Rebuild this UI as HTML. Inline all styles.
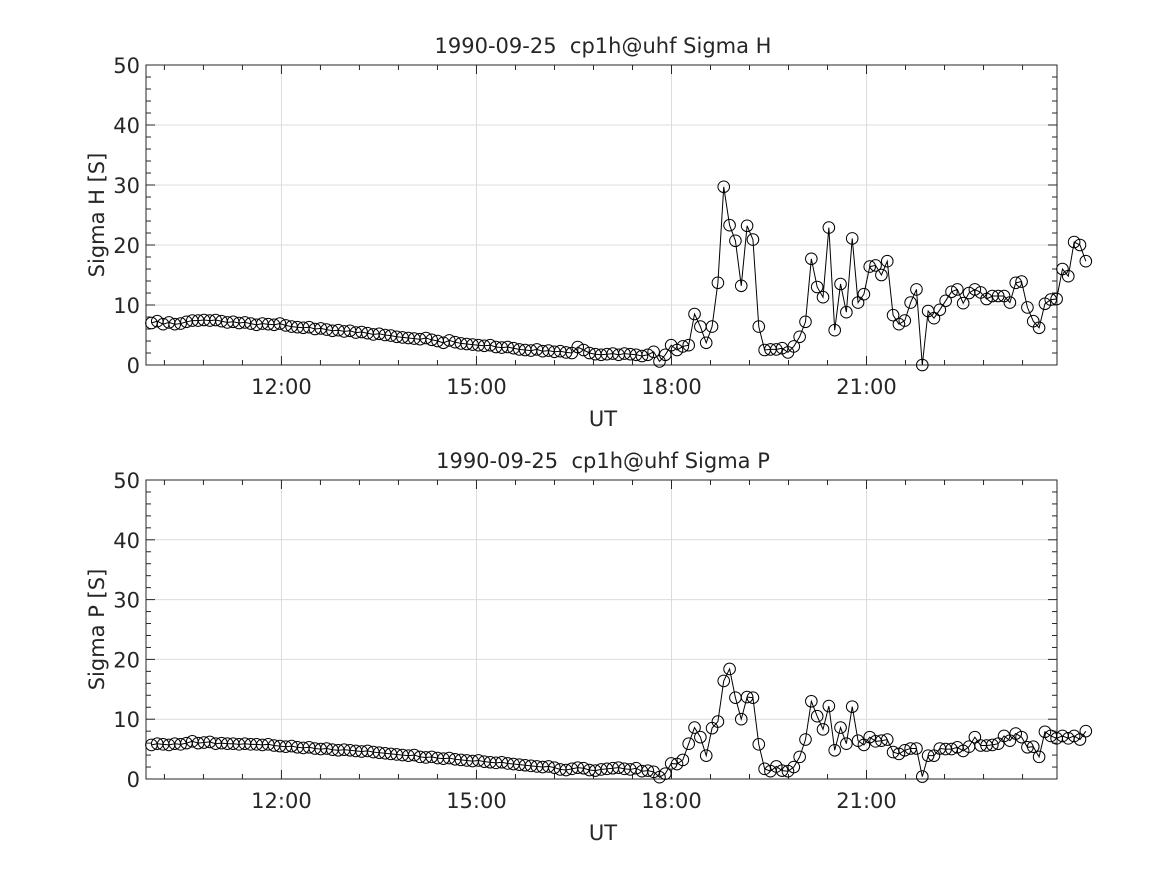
<!DOCTYPE html>
<html><head><meta charset="utf-8"><style>
body{margin:0;background:#fff;}
svg text{font-family:"DejaVu Sans","Liberation Sans",sans-serif;fill:#262626;white-space:pre;}
</style></head><body>
<svg id="fig" width="1167" height="875" viewBox="0 0 1167 875" xmlns="http://www.w3.org/2000/svg" xml:space="preserve"></svg>
<script>
// data
const startHour = 10.0;
const stepMin = 5.39;
const sigmaH = [7.0,7.3,6.8,7.1,6.8,6.9,7.2,7.4,7.4,7.5,7.4,7.5,7.3,7.1,7.2,7.0,7.1,6.9,6.7,6.9,6.8,6.7,6.9,6.6,6.4,6.3,6.2,6.3,6.0,6.1,5.9,5.7,5.8,5.6,5.7,5.4,5.5,5.3,5.1,5.2,5.0,4.9,4.7,4.6,4.5,4.4,4.3,4.5,4.2,4.0,3.7,4.1,3.8,3.6,3.5,3.4,3.3,3.2,3.3,3.0,2.9,3.0,2.8,2.6,2.5,2.4,2.6,2.3,2.4,2.2,2.3,2.1,2.0,3.0,2.5,2.0,1.8,1.7,1.8,1.9,1.7,1.9,1.8,1.7,1.5,
1.7,2.2,0.6,1.7,3.3,2.5,3.1,3.3,8.5,6.4,3.7,6.4,13.7,29.7,23.3,20.7,13.2,23.2,20.9,6.4,2.5,2.6,2.6,2.8,2.1,3.1,4.7,7.2,17.7,13.0,11.3,22.9,5.8,13.5,8.8,21.1,10.4,11.8,16.4,16.6,15.0,17.3,8.3,6.8,7.4,10.4,12.6,0,9.0,7.8,9.2,10.7,12.2,12.6,10.3,12.0,12.6,12.1,11.0,11.5,11.5,11.5,10.4,13.7,13.9,9.6,7.3,6.2,10.2,10.9,11.0,16.0,14.8,20.5,20.0,17.3];
const sigmaP = [5.7,5.9,5.8,5.7,5.9,5.8,6.0,6.3,6.0,6.1,6.2,5.9,6.0,5.9,5.9,5.8,5.9,5.8,5.8,5.7,5.8,5.6,5.5,5.4,5.5,5.3,5.2,5.3,5.1,5.0,5.1,4.9,4.8,4.9,4.8,4.7,4.6,4.7,4.5,4.4,4.3,4.2,4.1,4.0,3.9,4.0,3.7,3.6,3.7,3.5,3.4,3.5,3.3,3.2,3.1,3.0,3.1,2.9,2.8,2.7,2.8,2.6,2.5,2.4,2.3,2.2,2.1,2.0,2.1,1.9,1.6,1.5,1.7,1.9,1.8,1.5,1.4,1.6,1.7,1.8,1.9,1.7,1.6,1.8,1.3,
1.4,1.2,0.3,0.9,2.6,2.5,3.2,5.9,8.6,7.0,3.9,8.5,9.6,16.4,18.4,13.6,10.0,13.7,13.6,5.8,1.7,1.3,2.1,1.4,1.3,2.0,3.7,6.6,13.0,10.5,8.3,12.2,4.8,8.6,5.9,12.1,6.4,5.7,7.0,6.3,6.4,6.6,4.5,4.2,4.8,5.1,5.1,0.4,3.9,3.9,5.1,5.0,5.0,5.3,4.7,5.4,7.0,5.6,5.6,5.7,5.9,7.2,6.4,7.6,7.0,5.3,5.4,3.7,7.9,7.2,6.8,7.2,6.8,7.2,6.6,8.0];
const xTickHours = [12,15,18,21];
const xTickLabels = ["12:00","15:00","18:00","21:00"];
const yTicks = [0,10,20,30,40,50];

const NS="http://www.w3.org/2000/svg";
const svg=document.getElementById('fig');
function mk(tag,attrs,parent){const e=document.createElementNS(NS,tag);for(const k in attrs)e.setAttribute(k,attrs[k]);(parent||svg).appendChild(e);return e;}
const X0=146,X1=1057,H0=9.9167,H1=23.93;
function xs(h){return X0+(h-H0)/(H1-H0)*(X1-X0);}

function panel(top,bottom,values,title,ylab,key){
  const g=mk('g',{});
  
  
  const ys=v=>bottom-v/50*(bottom-top);
  mk('rect',{x:X0,y:top,width:X1-X0,height:bottom-top,fill:'#fff'},g);
  xTickHours.forEach(h=>{const l=mk('line',{x1:xs(h),x2:xs(h),y1:top,y2:bottom,stroke:'#dcdcdc','stroke-width':1},g);
    });
  yTicks.forEach(v=>{const l=mk('line',{x1:X0,x2:X1,y1:ys(v),y2:ys(v),stroke:'#dcdcdc','stroke-width':1},g);
    });
  for(let v=0;v<=50;v+=2){const y=ys(v);const L=(v%10===0)?9:5;
    mk('line',{x1:X0,x2:X0+L,y1:y,y2:y,stroke:'#262626'},g);mk('line',{x1:X1,x2:X1-L,y1:y,y2:y,stroke:'#262626'},g);}
  for(let h=9.6;h<=24;h+=0.6){const x=xs(h);if(x<X0||x>X1)continue;const L=(Math.abs(h/3-Math.round(h/3))<0.01)?9:5;
    mk('line',{x1:x,x2:x,y1:bottom,y2:bottom-L,stroke:'#262626'},g);mk('line',{x1:x,x2:x,y1:top,y2:top+L,stroke:'#262626'},g);}
  const box=mk('rect',{x:X0,y:top,width:X1-X0,height:bottom-top,fill:'none',stroke:'#262626','stroke-width':1},g);
  
  yTicks.forEach(v=>{const t=mk('text',{x:X0-6,y:ys(v)+8,'text-anchor':'end','font-size':21},g);t.textContent=v;
    });
  xTickHours.forEach((h,i)=>{const t=mk('text',{x:xs(h),y:bottom+29,'text-anchor':'middle','font-size':21},g);t.textContent=xTickLabels[i];
    });
  const tt=mk('text',{x:603,y:top-12,'text-anchor':'middle','font-size':21},g);tt.textContent=title;
  
  const xl=mk('text',{x:603,y:bottom+61,'text-anchor':'middle','font-size':21},g);xl.textContent='UT';
  
  const yl=mk('text',{x:0,y:0,'text-anchor':'middle','font-size':21,transform:`translate(104,${(top+bottom)/2}) rotate(-90)`},g);yl.textContent=ylab;
  
  const pts=values.map((v,i)=>[xs(startHour+i*stepMin/60),ys(v)]);
  const pl=mk('polyline',{points:pts.map(p=>p.join(',')).join(' '),fill:'none',stroke:'#000','stroke-width':1},g);
  
  pts.forEach(p=>{const c=mk('circle',{cx:p[0],cy:p[1],r:5.8,fill:'none',stroke:'#000','stroke-width':1},g);
    });
}
panel(65,365,sigmaH,'1990-09-25  cp1h@uhf Sigma H','Sigma H [S]','sigma-h');
panel(480,779,sigmaP,'1990-09-25  cp1h@uhf Sigma P','Sigma P [S]','sigma-p');
</script>
</body></html>
